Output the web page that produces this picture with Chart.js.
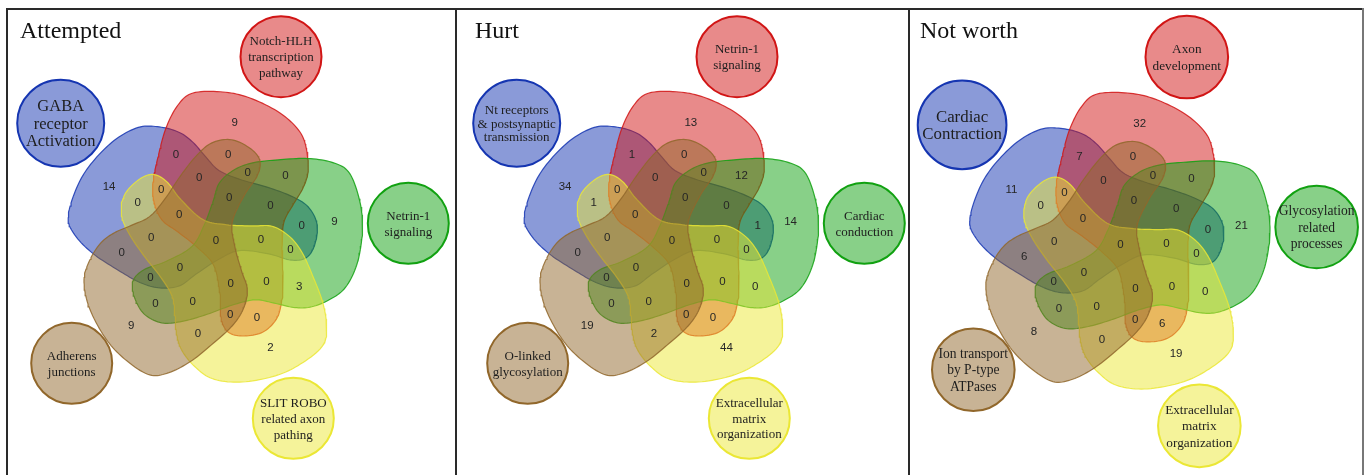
<!DOCTYPE html>
<html>
<head>
<meta charset="utf-8">
<script src="https://cdn.jsdelivr.net/npm/chart.js@4.4.1/dist/chart.umd.min.js"></script>
<style>
  html, body { margin: 0; padding: 0; background: #fff; }
  #page { position: relative; width: 1368px; height: 475px; overflow: hidden; }
  #page canvas { position: absolute; top: 0; }
  .rule { position: absolute; background: #2a2a2a; z-index: 2; }
</style>
</head>
<body>
<div id="page">
  <canvas id="c0"></canvas>
  <canvas id="c1"></canvas>
  <canvas id="c2"></canvas>
  <div class="rule" style="left:6px;top:8px;width:1358px;height:2px"></div>
  <div class="rule" style="left:6px;top:8px;width:2px;height:470px"></div>
  <div class="rule" style="left:455px;top:8px;width:2px;height:470px"></div>
  <div class="rule" style="left:908px;top:8px;width:2px;height:470px"></div>
  <div class="rule" style="left:1362px;top:8px;width:2px;height:470px;background:#777"></div>
</div>
<script>
// region keys: a = 1st set (top), b = 2nd (right), c = 3rd (bottom), d = 4th (lower left), e = 5th (upper left)
const regions = ['a', 'b', 'c', 'd', 'e',
  'ab', 'ac', 'ad', 'ae', 'bc', 'bd', 'be', 'cd', 'ce', 'de',
  'abc', 'abd', 'abe', 'acd', 'ace', 'ade', 'bcd', 'bce', 'bde', 'cde',
  'abcd', 'abce', 'abde', 'acde', 'bcde', 'abcde'];

const attemptedCounts = [9, 9, 2, 9, 14,
  0, 0, 0, 0, 3, 0, 0, 0, 0, 0,
  0, 0, 0, 0, 0, 0, 0, 0, 0, 0,
  0, 0, 0, 0, 0, 0];
const hurtCounts = [13, 14, 44, 19, 34,
  12, 0, 0, 1, 0, 0, 1, 2, 1, 0,
  0, 0, 0, 0, 0, 0, 0, 0, 0, 0,
  0, 0, 0, 0, 0, 0];
const notWorthCounts = [32, 21, 19, 8, 11,
  0, 6, 0, 7, 0, 0, 0, 0, 0, 6,
  0, 0, 0, 0, 0, 0, 0, 0, 0, 0,
  0, 0, 0, 0, 0, 0];

const attemptedSets = ['Notch-HLH\ntranscription\npathway', 'Netrin-1\nsignaling',
  'SLIT ROBO\nrelated axon\npathing', 'Adherens\njunctions', 'GABA\nreceptor\nActivation'];
const hurtSets = ['Netrin-1\nsignaling', 'Cardiac\nconduction',
  'Extracellular\nmatrix\norganization', 'O-linked\nglycosylation', 'Nt receptors\n& postsynaptic\ntransmission'];
const notWorthSets = ['Axon\ndevelopment', 'Glycosylation\nrelated\nprocesses',
  'Extracellular\nmatrix\norganization', 'Ion transport\nby P-type\nATPases', 'Cardiac\nContraction'];

const titles = ['Attempted', 'Hurt', 'Not worth'];

// ---- styling / layout ----
const setRGB = [[209, 21, 21], [17, 161, 17], [235, 231, 53], [145, 103, 43], [21, 53, 177]];
const drawOrder = [3, 2, 1, 0, 4]; // 0 = on top (brown, yellow, green, red, blue)
const rgba = (c, a) => `rgba(${c[0]},${c[1]},${c[2]},${a})`;

const panelEdges = [0, 456, 909, 1368];
const panels = [
  { title: titles[0], sets: attemptedSets, counts: attemptedCounts, cx: 216, cy: 241, s: 1, titleX: 20,
    font: [13, 13, 13, 13, 16.5], lead: [16, 16, 16, 16, 17.3] },
  { title: titles[1], sets: hurtSets, counts: hurtCounts, cx: 672, cy: 241, s: 1, titleX: 475,
    font: [13, 13, 13, 13, 13], lead: [15.5, 16, 15.5, 16, 13.7] },
  { title: titles[2], sets: notWorthSets, counts: notWorthCounts, cx: 1120.5, cy: 245, s: 1.02, titleX: 920,
    font: [13, 13.3, 13, 13.3, 16.5], lead: [16, 16.3, 16, 16, 17.3] }
];

// outline of the first set, relative to the diagram centre; the others are 72deg turns of it
const shapeTemplate = [
  [-23, -148], [7, -149], [34, -143], [64, -128], [84, -109], [91, -89], [92, -69], [87, -53],
  [77, -36], [68, -19], [66, 4], [67, 31], [66, 57], [61, 77], [47, 91], [27, 95], [12, 91],
  [5, 77], [4, 54], [-2, 25], [-18, 7], [-38, -9], [-54, -21], [-62, -39], [-63, -59],
  [-58, -84], [-50, -113], [-38, -136]
];

// label spot for each family of regions (radius, angle of the first member)
const orbits = [
  { rep: [0], r: 120, a: 279 },
  { rep: [0, 1], r: 95, a: 317 },
  { rep: [0, 3], r: 87, a: 278 },
  { rep: [0, 1, 2], r: 65, a: 39 },
  { rep: [0, 1, 3], r: 75, a: 295 },
  { rep: [0, 1, 3, 4], r: 45, a: 287 },
  { rep: [0, 1, 2, 3, 4], r: 0, a: 0 }
];

// legend circles, relative to centre
const circleSpot = [[65, -184.3], [192.3, -17.7], [77.3, 177.3], [-144.3, 122.3], [-155.3, -117.7]];
const circleR = [40.5, 40.5, 40.5, 40.5, 43.5];

function turn(x, y, deg) {
  const t = deg * Math.PI / 180;
  return [x * Math.cos(t) - y * Math.sin(t), x * Math.sin(t) + y * Math.cos(t)];
}

function smoothLoop(pts, steps) {
  const out = [];
  const n = pts.length;
  for (let i = 0; i < n; i++) {
    const p0 = pts[(i - 1 + n) % n], p1 = pts[i], p2 = pts[(i + 1) % n], p3 = pts[(i + 2) % n];
    for (let k = 0; k < steps; k++) {
      const u = k / steps, u2 = u * u, u3 = u2 * u;
      const f = j => 0.5 * (2 * p1[j] + (-p0[j] + p2[j]) * u +
        (2 * p0[j] - 5 * p1[j] + 4 * p2[j] - p3[j]) * u2 + (-p0[j] + 3 * p1[j] - 3 * p2[j] + p3[j]) * u3);
      out.push({ x: f(0), y: f(1) });
    }
  }
  out.push(out[0]);
  return out;
}

function setOutline(i, p) {
  const pts = shapeTemplate.map(([x, y]) => {
    const [u, v] = turn(x, y, i * 72);
    return [p.cx + p.s * u, p.cy + p.s * v];
  });
  return smoothLoop(pts, 10);
}

function regionSpot(key, p) {
  const idx = key.split('').map(ch => ch.charCodeAt(0) - 97).sort().join(',');
  for (const o of orbits) {
    if (o.rep.length !== key.length) continue;
    for (let k = 0; k < 5; k++) {
      const moved = o.rep.map(v => (v + k) % 5).sort().join(',');
      if (moved === idx) {
        const t = (o.a + 72 * k) * Math.PI / 180;
        return [p.cx + p.s * o.r * Math.cos(t), p.cy + p.s * o.r * Math.sin(t)];
      }
    }
  }
  return [p.cx, p.cy];
}

const textPlugin = {
  id: 'vennText',
  afterDraw(chart) {
    const p = chart.options.plugins.vennText.panel;
    const { ctx } = chart;
    const sx = chart.scales.x, sy = chart.scales.y;
    ctx.save();
    // counts
    ctx.fillStyle = '#262626';
    ctx.font = '11.5px "Liberation Sans", Arial, sans-serif';
    ctx.textAlign = 'center';
    ctx.textBaseline = 'middle';
    regions.forEach((key, i) => {
      const [x, y] = regionSpot(key, p);
      ctx.fillText(String(p.counts[i]), sx.getPixelForValue(x), sy.getPixelForValue(y));
    });
    // circle labels
    ctx.fillStyle = '#1e1e1e';
    p.sets.forEach((name, i) => {
      const lines = name.split('\n');
      const size = p.font[i] * p.s, lead = p.lead[i] * p.s;
      ctx.font = `${size}px "Liberation Serif", "Times New Roman", serif`;
      const x = p.cx + p.s * circleSpot[i][0];
      const y0 = p.cy + p.s * circleSpot[i][1] - (lines.length - 1) * lead / 2;
      lines.forEach((ln, j) => {
        ctx.fillText(ln, sx.getPixelForValue(x), sy.getPixelForValue(y0 + j * lead) + 1);
      });
    });
    // title
    ctx.fillStyle = '#111';
    ctx.textAlign = 'left';
    ctx.textBaseline = 'alphabetic';
    ctx.font = '24px "Liberation Serif", "Times New Roman", serif';
    ctx.fillText(p.title, sx.getPixelForValue(p.titleX), sy.getPixelForValue(38));
    ctx.restore();
  }
};

panels.forEach((p, idx) => {
  const canvas = document.getElementById('c' + idx);
  const x0 = panelEdges[idx], x1 = panelEdges[idx + 1];
  canvas.width = x1 - x0;
  canvas.height = 475;
  canvas.style.left = x0 + 'px';

  const shapes = setRGB.map((col, i) => ({
    type: 'scatter',
    data: setOutline(i, p),
    showLine: true,
    fill: 'shape',
    backgroundColor: rgba(col, 0.5),
    borderColor: rgba(col, 0.85),
    borderWidth: 1.2,
    pointRadius: 0,
    tension: 0,
    order: drawOrder[i] + 1
  }));

  const circles = {
    type: 'bubble',
    data: setRGB.map((c, i) => ({
      x: p.cx + p.s * circleSpot[i][0],
      y: p.cy + p.s * circleSpot[i][1],
      r: circleR[i] * p.s
    })),
    backgroundColor: setRGB.map(c => rgba(c, 0.5)),
    borderColor: setRGB.map(c => rgba(c, 1)),
    borderWidth: 2,
    clip: false,
    order: 0
  };

  new Chart(canvas, {
    type: 'scatter',
    data: { datasets: [...shapes, circles] },
    options: {
      responsive: false,
      animation: false,
      events: [],
      layout: { padding: 0, autoPadding: false },
      scales: {
        x: { type: 'linear', min: x0, max: x1, display: false },
        y: { type: 'linear', min: 0, max: 475, reverse: true, display: false }
      },
      plugins: {
        legend: { display: false },
        tooltip: { enabled: false },
        vennText: { panel: p }
      }
    },
    plugins: [textPlugin]
  });
});
</script>
</body>
</html>
